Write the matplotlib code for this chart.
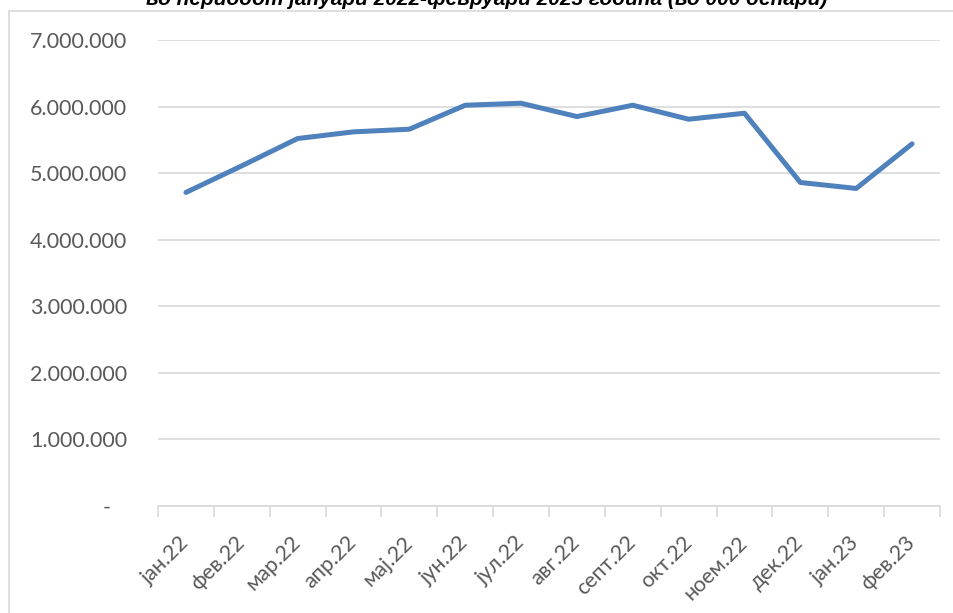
#Grafik: mesecni iznosi jan.2022 - feb.2023 (vo 000 denari)

import matplotlib
matplotlib.use('Agg')
import matplotlib.pyplot as plt
from matplotlib.patches import Rectangle
from matplotlib.ticker import FuncFormatter, FixedLocator

meseci = ['јан.22', 'фев.22', 'мар.22', 'апр.22', 'мај.22', 'јун.22', 'јул.22',
          'авг.22', 'септ.22', 'окт.22', 'ноем.22', 'дек.22', 'јан.23', 'фев.23']
vrednosti = [4710000, 5110000, 5520000, 5620000, 5660000, 6020000, 6050000,
             5850000, 6020000, 5810000, 5900000, 4860000, 4770000, 5440000]
y_ticks = [0, 1000000, 2000000, 3000000, 4000000, 5000000, 6000000, 7000000]

naslov = 'во периодот јануари 2022-февруари 2023 година (во 000 денари)'

GRAY = '#d9d9d9'
TEXT = '#595959'
W, H = 954, 613

fig = plt.figure(figsize=(W / 100, H / 100), dpi=100)
ax = fig.add_axes([158 / W, 1 - 506 / H, (940 - 158) / W, (506 - 40) / H])

# ramka okolu grafikot
fig.patches.append(Rectangle((9 / W, -0.1), 1.2, 1 - 11 / H + 0.1,
                             transform=fig.transFigure, fill=False,
                             edgecolor=GRAY, linewidth=1.2))

x = list(range(len(meseci)))
ax.plot(x, vrednosti, color='#4f81bd', linewidth=3.6,
        solid_capstyle='round', solid_joinstyle='round', zorder=3)

ax.set_xlim(-0.5, len(meseci) - 0.5)
ax.set_ylim(0, 7000000)

ax.set_yticks(y_ticks)
def fmt(v, pos):
    if v == 0:
        return '-   '
    return f'{int(v):,}'.replace(',', '.')
ax.yaxis.set_major_formatter(FuncFormatter(fmt))
ax.tick_params(axis='y', length=0, pad=22, labelsize=15.5, labelcolor=TEXT)
ax.grid(True, axis='y', color=GRAY, linewidth=1.2)

ax.set_xticks(x)
ax.set_xticklabels(meseci, rotation=45, ha='right', va='center',
                   rotation_mode='anchor')
ax.xaxis.set_minor_locator(FixedLocator([i - 0.5 for i in range(len(meseci) + 1)]))
ax.tick_params(axis='x', which='major', length=0, pad=24, labelsize=15.5,
               labelcolor=TEXT)
ax.tick_params(axis='x', which='minor', length=8, width=1.2, color=GRAY)

for s in ['left', 'right', 'top']:
    ax.spines[s].set_visible(False)
ax.spines['bottom'].set_color(GRAY)
ax.spines['bottom'].set_linewidth(1.2)
ax.set_axisbelow(True)

for lbl in ax.get_xticklabels() + ax.get_yticklabels():
    lbl.set_family('Lato')

# naslovot e isecen na gornjiot rab kako vo originalot
fig.text(487 / W, 1 - 5 / H, naslov, ha='center', va='baseline',
         fontsize=15, fontweight='bold', fontstyle='italic',
         family='Liberation Sans', color='black')

fig.savefig('out.png', dpi=100)
